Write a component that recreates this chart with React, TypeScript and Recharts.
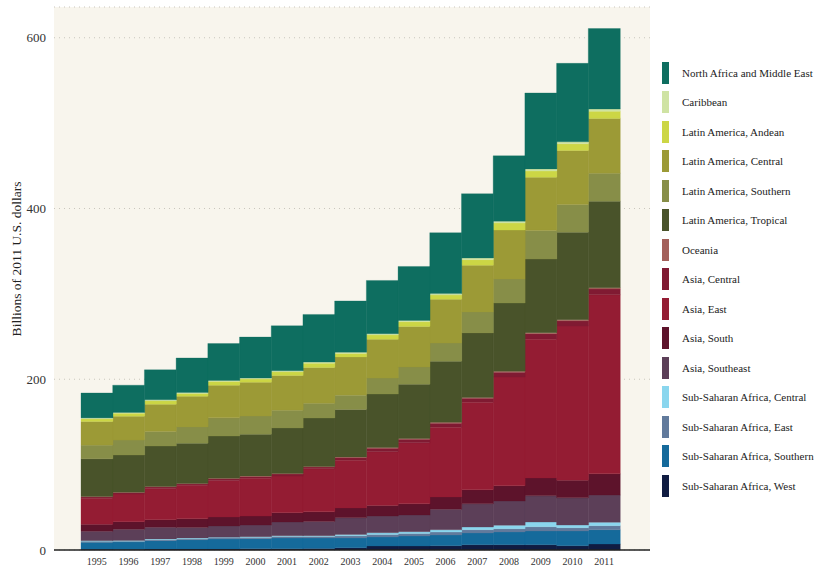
import { BarChart, Bar, XAxis, YAxis, CartesianGrid, Label } from "recharts";

// 1995–2011, billions of 2011 US dollars
const years = [1995, 1996, 1997, 1998, 1999, 2000, 2001, 2002, 2003, 2004, 2005, 2006, 2007, 2008, 2009, 2010, 2011];

const ssaWest = [1.0, 1.0, 1.2, 1.2, 1.3, 1.4, 1.6, 1.8, 2.7, 4.7, 4.7, 5.0, 6.2, 6.2, 6.2, 5.0, 7.0];
const ssaSouthern = [8.0, 8.4, 9.7, 10.8, 11.6, 11.8, 12.4, 12.2, 11.3, 10.5, 11.7, 12.5, 13.7, 14.9, 16.0, 17.2, 16.7];
const ssaEast = [1.2, 0.9, 1.2, 1.2, 1.2, 1.4, 1.7, 1.7, 2.6, 3.0, 3.0, 3.5, 3.9, 3.9, 5.0, 3.9, 4.8];
const ssaCentral = [0.7, 0.7, 0.8, 0.8, 0.8, 0.9, 1.0, 1.0, 1.5, 2.0, 2.0, 2.7, 3.1, 3.9, 5.5, 3.1, 3.9];
const asiaSoutheast = [11.0, 13.3, 13.7, 12.5, 13.2, 13.7, 16.0, 16.8, 19.6, 19.5, 19.5, 23.9, 27.3, 28.4, 30.8, 31.9, 31.9];
const asiaSouth = [8.2, 8.9, 8.9, 10.1, 10.5, 10.5, 10.9, 11.2, 11.6, 12.5, 13.2, 14.4, 16.4, 17.9, 20.7, 20.7, 24.9];
const asiaEast = [30.5, 32.3, 36.5, 39.1, 42.8, 44.3, 43.0, 50.5, 55.8, 62.8, 71.5, 81.9, 102.6, 127.5, 162.6, 180.6, 209.8];
const asiaCentral = [1.5, 1.6, 1.8, 1.7, 2.0, 2.1, 2.4, 2.0, 3.1, 4.1, 4.1, 4.6, 4.4, 5.5, 6.6, 6.1, 6.8];
const oceania = [0.5, 0.5, 0.5, 0.6, 0.6, 0.6, 0.7, 0.7, 0.8, 0.9, 0.9, 1.0, 1.1, 1.2, 1.2, 1.3, 1.4];
const laTropical = [44.2, 43.6, 47.4, 47.1, 49.4, 48.9, 53.2, 56.7, 55.7, 62.7, 63.5, 71.6, 75.6, 79.9, 86.1, 102.5, 101.3];
const laSouthern = [16.0, 17.5, 17.2, 19.1, 21.4, 21.4, 20.7, 17.2, 16.7, 18.7, 20.2, 21.4, 24.6, 28.1, 33.6, 32.4, 32.7];
const laCentral = [27.7, 28.1, 31.9, 35.9, 38.2, 39.4, 40.9, 42.1, 44.8, 45.3, 47.6, 51.1, 54.6, 57.3, 62.3, 63.2, 64.3];
const laAndean = [3.2, 3.3, 4.0, 3.2, 4.3, 3.8, 4.2, 4.8, 4.1, 5.2, 5.4, 5.0, 6.5, 8.2, 7.2, 7.8, 8.4];
const caribbean = [1.0, 1.0, 1.1, 1.1, 1.2, 1.2, 1.3, 1.4, 1.4, 1.5, 1.6, 1.7, 2.0, 2.3, 2.6, 2.4, 2.6];
const northAfricaME = [29.2, 31.9, 35.1, 40.5, 43.3, 48.0, 52.6, 55.8, 60.0, 62.3, 63.2, 71.3, 75.3, 76.5, 88.9, 91.9, 94.3];

const yTicks = [0, 200, 400, 600];

// stack order, bottom first
const series = [
  { key: "Sub-Saharan Africa, West", values: ssaWest, color: "#101c42" },
  { key: "Sub-Saharan Africa, Southern", values: ssaSouthern, color: "#156a9b" },
  { key: "Sub-Saharan Africa, East", values: ssaEast, color: "#617a9c" },
  { key: "Sub-Saharan Africa, Central", values: ssaCentral, color: "#8ad6ee" },
  { key: "Asia, Southeast", values: asiaSoutheast, color: "#5c3f58" },
  { key: "Asia, South", values: asiaSouth, color: "#5d132b" },
  { key: "Asia, East", values: asiaEast, color: "#941c33" },
  { key: "Asia, Central", values: asiaCentral, color: "#801a32" },
  { key: "Oceania", values: oceania, color: "#a3605a" },
  { key: "Latin America, Tropical", values: laTropical, color: "#49532a" },
  { key: "Latin America, Southern", values: laSouthern, color: "#878e48" },
  { key: "Latin America, Central", values: laCentral, color: "#9c9a36" },
  { key: "Latin America, Andean", values: laAndean, color: "#ccd645" },
  { key: "Caribbean", values: caribbean, color: "#cfe3a3" },
  { key: "North Africa and Middle East", values: northAfricaME, color: "#0e6e60" },
];

const data = years.map((y, i) => {
  const row: Record<string, number | string> = { year: String(y) };
  series.forEach((s) => (row[s.key] = s.values[i]));
  return row;
});

const font = '"Liberation Serif", "DejaVu Serif", serif';

export default function App() {
  return (
    <div style={{ position: "absolute", left: 0, top: 0, width: 818, height: 567, background: "#fff", fontFamily: font }}>
      <BarChart
        width={818}
        height={567}
        data={data}
        margin={{ top: 7, right: 168, bottom: 0, left: 8 }}
        barCategoryGap={0}
        barGap={0}
      >
        <CartesianGrid fill="#f8f5ed" vertical={false} stroke="#c9c6bd" strokeDasharray="1 4" />
        <XAxis
          dataKey="year"
          padding={{ left: 27, right: 30 }}
          tickLine={false}
          axisLine={{ stroke: "#222", strokeWidth: 1.5 }}
          tick={{ fontSize: 10, fill: "#333", fontFamily: font }}
          height={17}
          interval={0}
        />
        <YAxis
          width={46}
          domain={[0, 636]}
          ticks={yTicks}
          axisLine={false}
          tickLine={false}
          tick={{ fontSize: 13, fill: "#333", fontFamily: font }}
        >
          <Label
            content={() => (
              <text
                x={16}
                y={259}
                transform="rotate(-90 16 259)"
                textAnchor="middle"
                dominantBaseline="central"
                fontSize={13.5}
                fill="#222"
                fontFamily={font}
              >
                Billions of 2011 U.S. dollars
              </text>
            )}
          />
        </YAxis>
        {series.map((s) => (
          <Bar
            key={s.key}
            dataKey={s.key}
            stackId="a"
            fill={s.color}
            stroke={s.color}
            strokeWidth={0.3}
            isAnimationActive={false}
          />
        ))}
      </BarChart>
      <div style={{ position: "absolute", left: 662, top: 58 }}>
        {[...series].reverse().map((s) => (
          <div key={s.key} style={{ display: "flex", alignItems: "center", height: 29.5 }}>
            <div style={{ width: 7, height: 22, background: s.color, marginRight: 13 }} />
            <span style={{ fontSize: 11, color: "#222", whiteSpace: "nowrap" }}>{s.key}</span>
          </div>
        ))}
      </div>
    </div>
  );
}
